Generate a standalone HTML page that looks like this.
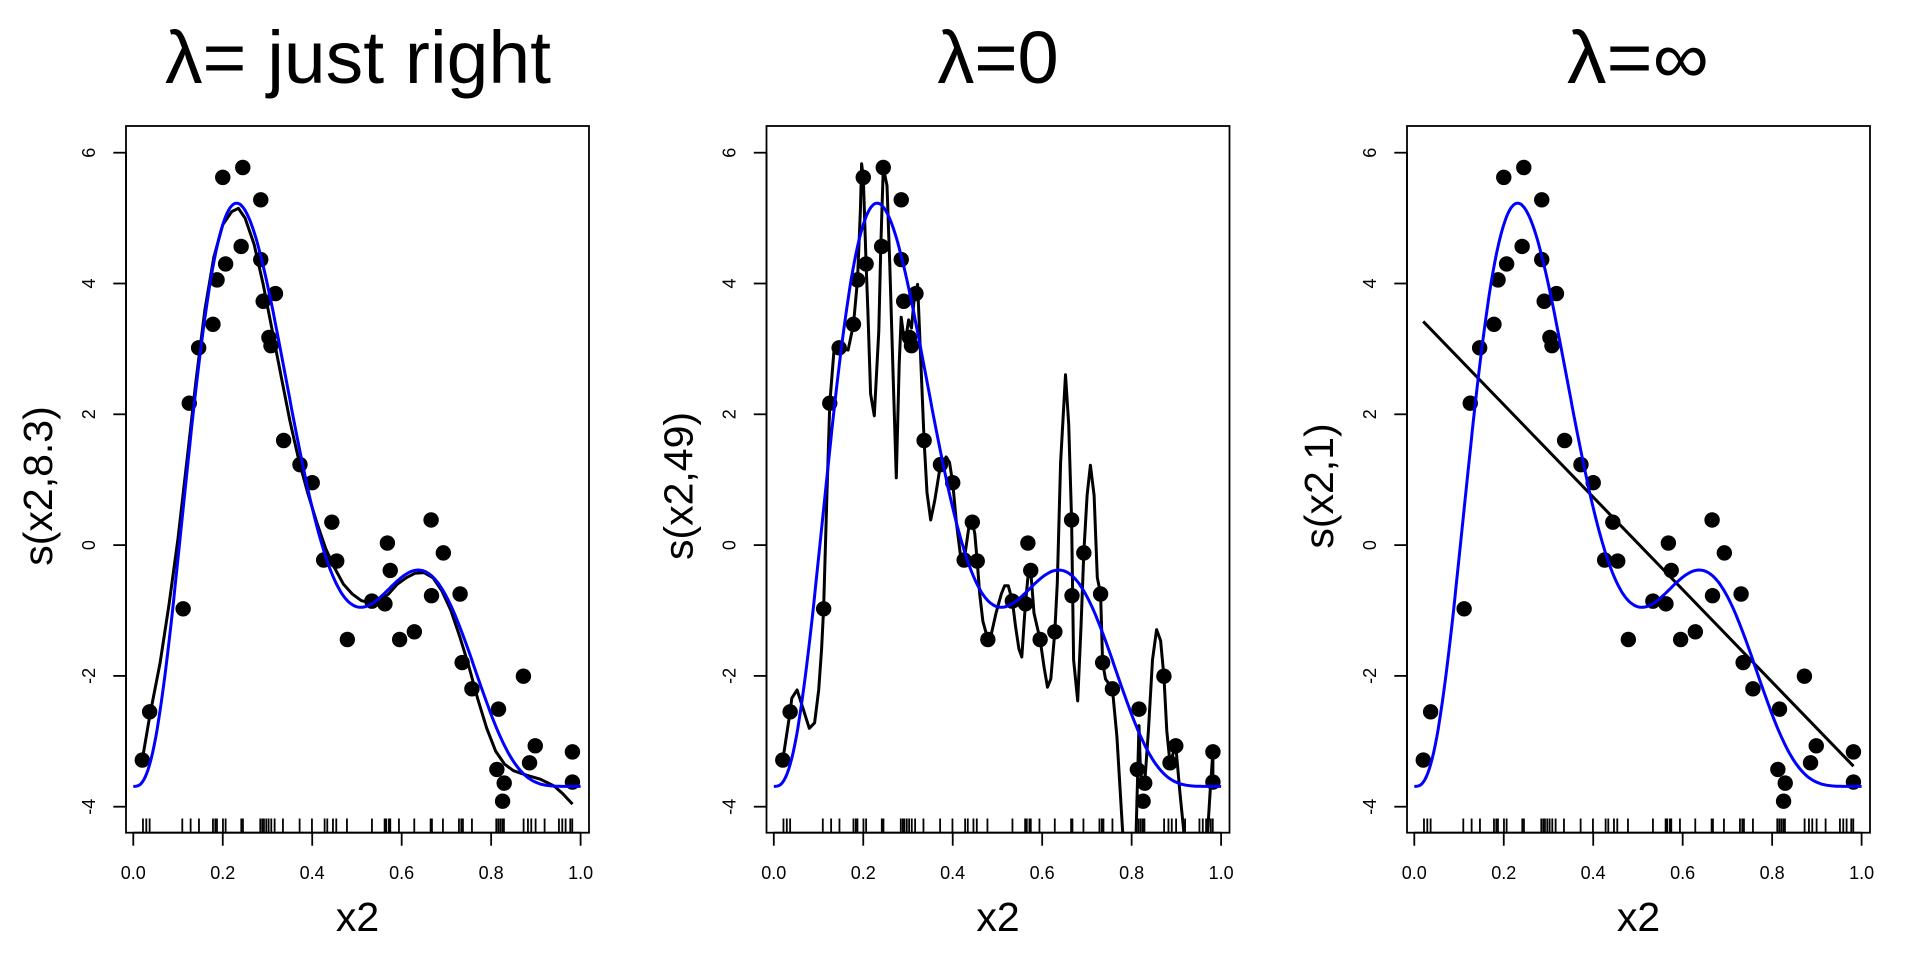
<!DOCTYPE html>
<html><head><meta charset="utf-8"><style>
html,body{margin:0;padding:0;background:#fff;}
svg{display:block;}
text{font-family:"Liberation Sans",sans-serif;fill:#000;}
</style></head><body>
<svg id="s" width="1920" height="960" viewBox="0 0 1920 960" xmlns="http://www.w3.org/2000/svg">
<rect width="1920" height="960" fill="#fff"/>
<defs>
<clipPath id="c0"><rect x="126" y="126" width="463" height="706.7"/></clipPath>
<clipPath id="c1"><rect x="766.5" y="126" width="463" height="706.7"/></clipPath>
<clipPath id="c2"><rect x="1407" y="126" width="463" height="706.7"/></clipPath>
</defs>
<text x="358" y="83" font-size="74" text-anchor="middle" textLength="386" lengthAdjust="spacingAndGlyphs">λ= just right</text>
<text x="998" y="83" font-size="74" text-anchor="middle">λ=0</text>
<text x="1638" y="83" font-size="74" text-anchor="middle" textLength="142" lengthAdjust="spacingAndGlyphs">λ=∞</text>
<g font-size="41" text-anchor="middle">
<text x="357.5" y="931">x2</text>
<text x="998" y="931">x2</text>
<text x="1638.5" y="931">x2</text>
<text transform="translate(52,486) rotate(-90)">s(x2,8.3)</text>
<text transform="translate(692.5,486) rotate(-90)">s(x2,49)</text>
<text transform="translate(1333,486) rotate(-90)">s(x2,1)</text>
</g>
<g font-size="18" text-anchor="middle">
<text x="133.3" y="879">0.0</text><text x="222.8" y="879">0.2</text><text x="312.2" y="879">0.4</text><text x="401.7" y="879">0.6</text><text x="491.1" y="879">0.8</text><text x="580.6" y="879">1.0</text>
<text x="773.8" y="879">0.0</text><text x="863.3" y="879">0.2</text><text x="952.7" y="879">0.4</text><text x="1042.2" y="879">0.6</text><text x="1131.6" y="879">0.8</text><text x="1221.1" y="879">1.0</text>
<text x="1414.3" y="879">0.0</text><text x="1503.8" y="879">0.2</text><text x="1593.2" y="879">0.4</text><text x="1682.7" y="879">0.6</text><text x="1772.1" y="879">0.8</text><text x="1861.6" y="879">1.0</text>
<text transform="translate(95,152.7) rotate(-90)">6</text>
<text transform="translate(95,283.5) rotate(-90)">4</text>
<text transform="translate(95,414.3) rotate(-90)">2</text>
<text transform="translate(95,545.1) rotate(-90)">0</text>
<text transform="translate(95,675.9) rotate(-90)">-2</text>
<text transform="translate(95,806.7) rotate(-90)">-4</text>
<text transform="translate(735.5,152.7) rotate(-90)">6</text>
<text transform="translate(735.5,283.5) rotate(-90)">4</text>
<text transform="translate(735.5,414.3) rotate(-90)">2</text>
<text transform="translate(735.5,545.1) rotate(-90)">0</text>
<text transform="translate(735.5,675.9) rotate(-90)">-2</text>
<text transform="translate(735.5,806.7) rotate(-90)">-4</text>
<text transform="translate(1376,152.7) rotate(-90)">6</text>
<text transform="translate(1376,283.5) rotate(-90)">4</text>
<text transform="translate(1376,414.3) rotate(-90)">2</text>
<text transform="translate(1376,545.1) rotate(-90)">0</text>
<text transform="translate(1376,675.9) rotate(-90)">-2</text>
<text transform="translate(1376,806.7) rotate(-90)">-4</text>
</g>
<g id="g"></g>
</svg>
<script>
(function(){
var NS="http://www.w3.org/2000/svg",G=document.getElementById("g");
var OFF=640.5;
function X(i,x){return 133.3+447.3*x+OFF*i;}
function Y(v){return 152.7+(6-v)*65.4;}
function el(t,a,p){var e=document.createElementNS(NS,t);for(var k in a)e.setAttribute(k,a[k]);(p||G).appendChild(e);return e;}
function path(i,pts,col,w,clip){var d="";pts.forEach(function(p,j){d+=(j?"L":"M")+X(i,p[0]).toFixed(1)+","+Y(p[1]).toFixed(1);});
 el("path",{d:d,fill:"none",stroke:col,"stroke-width":w,"stroke-linejoin":"round","clip-path":"url(#c"+i+")"});}
function zc(a){var r=[];for(var k=0;k<a.length;k+=2)r.push([(a[k]-328)/1095,6-(a[k+1]-95)*10/1193]);return r;}
var P=zc([350,1203,368,1115,450,927,465,552,488,451,523,408,533,327,547,140,554,298,596,122,592,266,640,181,640,290,646,366,676,352,660,432,665,447,696,620,736,664,766,697,794,838,814,769,826,840,852,983,912,913,944,918,950,807,957,857,980,983,1016,969,1057,765,1058,903,1087,825,1128,900,1133,1025,1157,1073,1222,1110,1218,1220,1236,1245,1232,1278,1283,1050,1298,1208,1312,1177,1403,1188,1403,1243]);
var rugz=[70,80,90,188,213,238,280,287,292,310,318,365,370,422,428,433,440,447,455,465,490,540,577,615,623,640,650,682,757,795,800,808,812,838,884,933,937,970,1018,1025,1030,1057,1130,1136,1142,1148,1153,1212,1225,1235,1248,1275,1318,1328,1338,1352,1358];
function f2(x){return 0.2*Math.pow(x,11)*Math.pow(10*(1-x),6)+10*Math.pow(10*x,3)*Math.pow(1-x,10)-3.69;}
var blue=[];for(var k=0;k<=300;k++){var x=k/300;blue.push([x,f2(x)]);}
var b1=[[0.02,-3.29],[0.037,-2.6],[0.06,-1.8],[0.08,-0.9],[0.10,0.1],[0.12,1.3],[0.14,2.5],[0.16,3.6],[0.18,4.4],[0.20,4.9],[0.22,5.1],[0.235,5.15],[0.25,5.0],[0.27,4.6],[0.29,4.0],[0.31,3.3],[0.33,2.6],[0.35,1.9],[0.37,1.3],[0.39,0.8],[0.41,0.35],[0.43,-0.05],[0.45,-0.35],[0.47,-0.6],[0.49,-0.75],[0.51,-0.85],[0.53,-0.88],[0.55,-0.85],[0.57,-0.75],[0.59,-0.6],[0.61,-0.5],[0.63,-0.43],[0.65,-0.42],[0.67,-0.5],[0.69,-0.7],[0.71,-1.0],[0.73,-1.4],[0.75,-1.85],[0.77,-2.35],[0.79,-2.8],[0.81,-3.15],[0.83,-3.35],[0.85,-3.45],[0.88,-3.52],[0.91,-3.58],[0.94,-3.68],[0.96,-3.8],[0.982,-3.96]];
var b2=zc([350,1203,368,1115,372,1090,385,1075,400,1110,415,1145,428,1135,438,1075,445,1000,450,927,458,720,465,552,475,460,488,451,510,455,523,408,533,327,540,200,543,115,547,140,554,298,558,380,565,535,574,575,585,420,590,266,596,122,605,155,612,300,620,500,628,688,635,480,640,395,646,430,652,430,658,400,665,415,672,360,680,335,686,440,696,620,703,715,712,765,722,730,736,664,750,650,758,660,766,697,775,770,785,830,794,838,805,780,814,769,820,790,826,840,832,900,840,950,852,983,860,975,872,935,885,900,893,885,902,885,912,913,920,960,928,1000,935,1015,944,918,950,870,957,857,965,935,980,983,990,1035,998,1070,1006,1055,1016,969,1022,880,1030,660,1042,500,1050,590,1057,765,1062,1020,1072,1095,1080,960,1087,825,1095,720,1103,665,1112,720,1120,870,1128,900,1133,1025,1140,1055,1157,1073,1168,1160,1182,1335,1195,1500,1208,1500,1215,1335,1222,1140,1226,1230,1236,1245,1245,1150,1255,1020,1265,965,1275,985,1283,1050,1290,1150,1298,1208,1312,1177,1322,1260,1332,1335,1340,1500,1385,1500,1390,1335,1397,1250,1403,1188,1403,1243]);
var b3=[[0.02,3.42],[0.982,-3.38]];
var blacks=[b1,b2,b3];
for(var i=0;i<3;i++){
 var L=126+OFF*i;
 el("rect",{x:L,y:126,width:463,height:706.7,fill:"none",stroke:"#000","stroke-width":1.8});
 for(var v=-4;v<=6;v+=2)el("line",{x1:L-12.7,x2:L,y1:Y(v),y2:Y(v),stroke:"#000","stroke-width":1.8});
 el("line",{x1:L,x2:L,y1:Y(6),y2:Y(-4),stroke:"#000","stroke-width":1.8});
 for(var t=0;t<=5;t++){var xx=X(i,t/5);el("line",{x1:xx,x2:xx,y1:832.7,y2:845.7,stroke:"#000","stroke-width":1.8});}
 el("line",{x1:X(i,0),x2:X(i,1),y1:832.7,y2:832.7,stroke:"#000","stroke-width":1.8});
 rugz.forEach(function(z){var xx=X(i,(z-41)/1342);el("line",{x1:xx,x2:xx,y1:818.5,y2:832.7,stroke:"#000","stroke-width":1.8});});
 P.forEach(function(p){el("circle",{cx:X(i,p[0]),cy:Y(p[1]),r:7.7,fill:"#000"});});
 path(i,blacks[i],"#000",3);
 path(i,blue,"#0000ff",3);
}
})();
</script>
</body></html>
